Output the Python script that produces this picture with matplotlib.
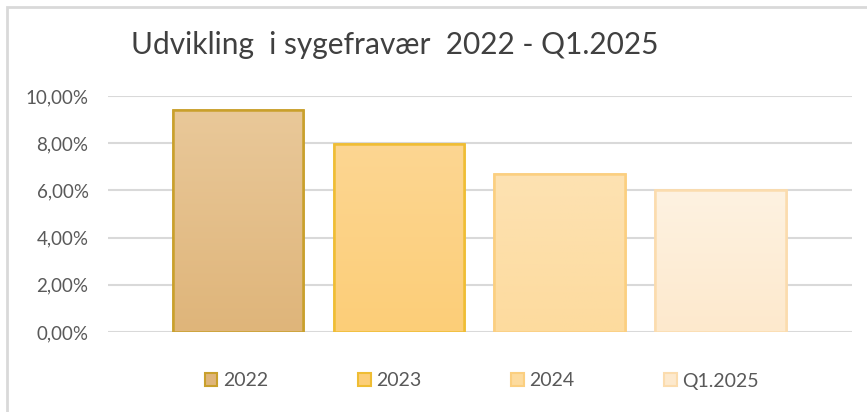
import numpy as np
import matplotlib.pyplot as plt
from matplotlib.patches import Rectangle

# data
categories = ["2022", "2023", "2024", "Q1.2025"]
values = [9.40, 7.98, 6.70, 6.01]
y_ticks = [0, 2, 4, 6, 8, 10]
y_labels = ["0,00%", "2,00%", "4,00%", "6,00%", "8,00%", "10,00%"]

# (top colour, bottom colour, edge colour) for each bar
top_cols = ["#e9c899", "#fdd692", "#fde2b2", "#fef2e1"]
bot_cols = ["#dfb57a", "#fcce78", "#fddb9e", "#fde9cd"]
edge_cols = ["#c9a02c", "#efbd34", "#fbcf80", "#fbdcae"]

plt.rcParams['font.family'] = ['Lato', 'DejaVu Sans']

fig = plt.figure(figsize=(8.67, 4.12), dpi=100)
ax = fig.add_axes([108 / 867, 80 / 412, 744 / 867, 236 / 412])

# chart frame (only top and left edges fall inside the image)
fig.patches.append(Rectangle((7 / 867, -0.1), 1.2, (412 - 7) / 412 + 0.1,
                             transform=fig.transFigure, fill=False,
                             edgecolor="#d9d9d9", linewidth=2))

x = np.arange(len(categories))
width = 0.81
bars = ax.bar(x, values, width=width, color=bot_cols, edgecolor=edge_cols,
              linewidth=1.8, zorder=3)

# vertical gradient inside each bar
for i, b in enumerate(bars):
    c1 = np.array(plt.matplotlib.colors.to_rgb(top_cols[i]))
    c2 = np.array(plt.matplotlib.colors.to_rgb(bot_cols[i]))
    t = np.linspace(0, 1, 100)[:, None]
    grad = (c1 * (1 - t) + c2 * t)[:, None, :]
    im = ax.imshow(grad, extent=[b.get_x(), b.get_x() + b.get_width(), 0, b.get_height()],
                   aspect='auto', zorder=3.5, interpolation='bilinear')
    im.set_clip_path(b)
    edge = Rectangle((b.get_x(), 0), b.get_width(), b.get_height(), fill=False,
                     edgecolor=edge_cols[i], linewidth=1.8, zorder=4)
    ax.add_patch(edge)

ax.set_xlim(-0.808, 3.818)
ax.set_ylim(0, 10)
ax.set_yticks(y_ticks)
ax.set_yticklabels(y_labels, fontsize=13.5, color="#595959")
ax.set_xticks([])
ax.tick_params(axis='y', length=0, pad=14)
ax.grid(axis='y', color="#d9d9d9", linewidth=1.5, zorder=0)
for s in ax.spines.values():
    s.set_visible(False)

fig.text(395 / 867, 1 - 45 / 412, "Udvikling  i sygefravær  2022 - Q1.2025",
         ha='center', va='center', fontsize=21.5, color="#404040")

handles = [Rectangle((0, 0), 1, 1, facecolor=bot_cols[i], edgecolor=edge_cols[i],
                     linewidth=1.5) for i in range(len(categories))]
fig.legend(handles, categories, loc='center', bbox_to_anchor=(482 / 867, 1 - 381 / 412),
           ncol=4, frameon=False, fontsize=14, labelcolor="#595959",
           handlelength=0.65, handleheight=0.65, handletextpad=0.3, columnspacing=4.6)

fig.savefig("out.png", dpi=100, facecolor="white")
